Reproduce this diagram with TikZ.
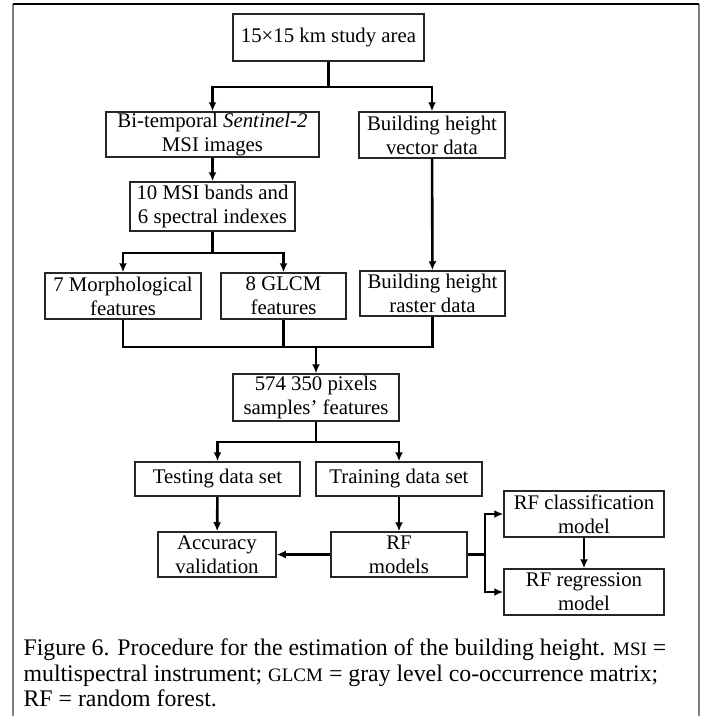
\documentclass[tikz,border=0pt]{standalone}
\usepackage{fontspec}
\setmainfont{Liberation Serif}
\usetikzlibrary{arrows.meta}
\usetikzlibrary{positioning}
\tikzset{box/.style = {draw = black!85, line width = 1.5pt, align = center, inner sep = 0,
                       font = \fontsize{20.8}{24}\selectfont}}
\tikzset{wire/.style = {line width = 2.6pt}}
\tikzset{link/.style = {line width = 2.6pt, -{Latex[length = 9pt, width = 8pt]}}}
\tikzset{captext/.style = {anchor = base west, inner sep = 0, font = \fontsize{23.8}{25.5}\selectfont}}
\newcommand\capabbr[1]{{\fontsize{19}{20}\selectfont #1}}

\begin{document}
\begin{tikzpicture}[x = 1pt, y = -1pt]
      \useasboundingbox (0, 0) rectangle (705, 716);
      \draw [gray, line width = 2pt] (13, 716) -- (13, 4);
      \draw [gray, line width = 2pt] (699, 716) -- (699, 4);
      \draw [black, line width = 1.3pt] (13, 4) -- (699, 4);
      \node [box, minimum width = 191, minimum height = 47] (area) at (328.5, 37.5) {15×15 km study area};
      \node [box, minimum width = 213, minimum height = 45] (sentinel) at (212.5, 134.5) {Bi-temporal \textit{Sentinel-2}\\MSI images};
      \node [box, minimum width = 146, minimum height = 46] (vector) at (432, 135) {Building height\\vector data};
      \node [box, minimum width = 165, minimum height = 49] (bands) at (212.5, 206.5) {10 MSI bands and\\6 spectral indexes};
      \node [box, minimum width = 156, minimum height = 46] (morph) at (123, 296) {7 Morphological\\features};
      \node [box, minimum width = 125, minimum height = 46] (glcm) at (283.5, 296) {8 GLCM\\features};
      \node [box, minimum width = 145, minimum height = 45] (raster) at (432.5, 293.5) {Building height\\raster data};
      \node [box, minimum width = 166, minimum height = 47] (samples) at (316, 397.5) {574 350 pixels\\samples’ features};
      \node [box, minimum width = 165, minimum height = 34] (testing) at (217.5, 479) {Testing data set};
      \node [box, minimum width = 166, minimum height = 34] (training) at (399, 479) {Training data set};
      \node [box, minimum width = 118, minimum height = 45] (accuracy) at (217, 554.5) {Accuracy\\validation};
      \node [box, minimum width = 136, minimum height = 45] (models) at (399, 554.5) {RF\\models};
      \node [box, minimum width = 160, minimum height = 46] (classif) at (584, 514) {RF classification\\model};
      \node [box, minimum width = 160, minimum height = 46] (regress) at (584, 592) {RF regression\\model};
      \coordinate (split1) at (328.5, 87);
      \coordinate (split2) at (212.5, 253);
      \coordinate (merge) at (316, 347);
      \coordinate (split3) at (316, 442);
      \coordinate (fork) at (485, 554.5);
      \draw [wire] (area) -- (split1);
      \draw [link] (split1) -| (sentinel);
      \draw [link] (split1) -| (vector);
      \draw [link] (sentinel) -- (bands);
      \draw [link] (vector) -- (raster);
      \draw [wire] (bands) -- (split2);
      \draw [link] (split2) -| (morph);
      \draw [link] (split2) -| (glcm);
      \draw [wire] (morph.south) |- (raster.south |- merge) -- (raster.south);
      \draw [wire] (glcm.south) -- (glcm.south |- merge);
      \draw [link] (merge) -- (samples);
      \draw [wire] (samples) -- (split3);
      \draw [link] (split3) -| (testing);
      \draw [link] (split3) -| (training);
      \draw [link] (testing) -- (accuracy);
      \draw [link] (training) -- (models);
      \draw [link] (models) -- (accuracy);
      \draw [wire] (models) -- (fork);
      \draw [link] (fork) |- (classif);
      \draw [link] (fork) |- (regress);
      \draw [link] (classif) -- (regress);
      \node [captext] (cap1) at (23.4, 655) {Figure 6. Procedure for the estimation of the building height. \capabbr{MSI} =};
      \node [captext] (cap2) at (23.4, 681) {multispectral instrument; \capabbr{GLCM} = gray level co-occurrence matrix;};
      \node [captext] (cap3) at (23.4, 706) {RF = random forest.};
    \end{tikzpicture}
\end{document}
